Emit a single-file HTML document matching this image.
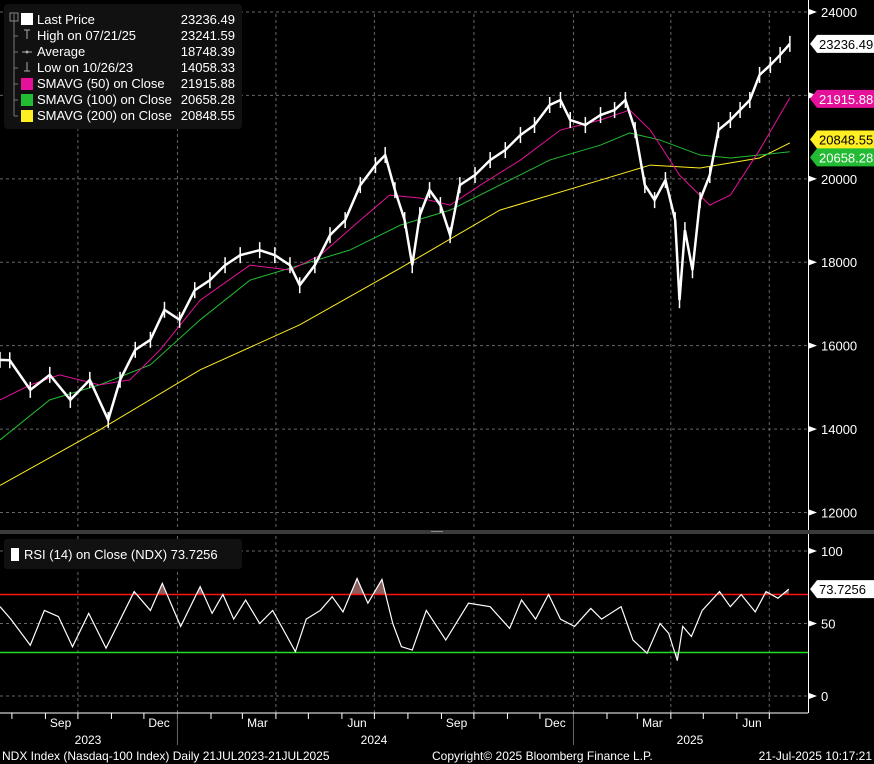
<!DOCTYPE html>
<html><head><meta charset="utf-8"><style>
html,body{margin:0;padding:0;background:#000;}
svg{display:block;font-family:"Liberation Sans",sans-serif;}
</style></head><body>
<svg id="c" width="874" height="764" viewBox="0 0 874 764" xmlns="http://www.w3.org/2000/svg">
<rect x="0" y="0" width="874" height="764" fill="#000"/>
<g id="grid"></g>
<g id="main"></g>
<g id="rsi"></g>
<g id="axes"></g>
<rect x="0" y="530" width="874" height="4" fill="#3a3a3a"/>
<line x1="431" y1="531.5" x2="443" y2="531.5" stroke="#888" stroke-width="1"/>
<g font-size="13" fill="#fff">
<rect x="4" y="4" width="238" height="125" rx="4" fill="#111"/>
<path d="M14 14 v102 M14 36 h4 M14 52 h4 M14 68 h4 M14 84 h4 M14 100 h4 M14 116 h4" stroke="#777" fill="none"/>
<rect x="10" y="13" width="8" height="8" fill="none" stroke="#888"/>
<rect x="21" y="13" width="12" height="12" fill="#fff"/>
<path d="M24 30 h6 M27 30 v9" stroke="#aaa"/>
<path d="M22 52 h10" stroke="#aaa"/><circle cx="27" cy="52" r="1.5" fill="#aaa"/>
<path d="M27 62 v9 M24 71 h6" stroke="#aaa"/>
<rect x="21" y="78" width="12" height="12" fill="#e6119a"/>
<rect x="21" y="94" width="12" height="12" fill="#22bb33"/>
<rect x="21" y="110" width="12" height="12" fill="#ffee22"/>
<text x="37" y="24">Last Price</text>
<text x="37" y="40">High on 07/21/25</text>
<text x="37" y="56">Average</text>
<text x="37" y="72">Low on 10/26/23</text>
<text x="37" y="88">SMAVG (50)  on Close</text>
<text x="37" y="104">SMAVG (100)  on Close</text>
<text x="37" y="120">SMAVG (200)  on Close</text>
<g text-anchor="end">
<text x="235" y="24">23236.49</text><text x="235" y="40">23241.59</text><text x="235" y="56">18748.39</text><text x="235" y="72">14058.33</text><text x="235" y="88">21915.88</text><text x="235" y="104">20658.28</text><text x="235" y="120">20848.55</text>
</g>
</g>
<g font-size="13" fill="#fff">
<rect x="4" y="539" width="238" height="30" rx="3" fill="#111"/>
<rect x="11" y="548" width="8" height="13" fill="#fff"/>
<text x="24" y="559">RSI (14)  on Close (NDX) 73.7256</text>
</g>
<g font-size="12" fill="#fff">
<text x="2" y="760">NDX Index (Nasdaq-100 Index)  Daily 21JUL2023-21JUL2025</text>
<text x="432" y="760">Copyright© 2025 Bloomberg Finance L.P.</text>
<text x="872" y="760" text-anchor="end">21-Jul-2025 10:17:21</text>
</g>
</svg>
<script>
// ---- data ----
const priceDays=[0,9,28,46,65,83,100,111,125,139,152,166,180,194,208,222,240,254,268,277,291,305,319,333,347,356,365,374,381,388,397,407,416,425,439,453,467,481,494,508,518,527,541,555,568,578,587,596,605,615,624,628,633,640,647,656,664,675,684,693,702,712,721,730];
const priceVals=[15660,15650,14940,15300,14700,15180,14220,15180,15900,16140,16860,16620,17330,17570,17930,18170,18290,18170,17930,17450,17930,18650,19010,19850,20330,20570,19730,19010,17930,19130,19730,19370,18650,19850,20090,20450,20690,21050,21290,21770,21890,21410,21290,21530,21650,21890,21170,19850,19490,19970,19010,17090,18770,17810,19490,20090,21170,21410,21650,21890,22490,22730,22970,23236];
const sma50Days=[0,28,55,92,120,148,185,231,268,296,333,360,388,416,444,481,518,555,582,601,628,656,675,702,730];
const sma50Vals=[14700,15060,15300,15060,15180,15900,17090,17930,17810,18170,19010,19610,19540,19370,19850,20450,21170,21410,21650,21170,20090,19370,19610,20690,21940];
const sma100Days=[0,46,92,139,185,231,277,323,370,416,462,508,555,582,610,647,675,702,730];
const sma100Vals=[13740,14700,15060,15540,16620,17570,17930,18290,18890,19250,19850,20450,20810,21100,20930,20570,20500,20570,20650];
const sma200Days=[0,92,185,277,370,462,555,601,647,702,730];
const sma200Vals=[12650,13980,15420,16500,17860,19250,19970,20330,20260,20500,20860];
const rsiDays=[0,10,28,41,54,67,82,98,124,139,150,167,185,196,206,216,227,240,252,273,283,296,307,317,330,340,353,363,371,381,394,412,433,453,471,482,495,507,518,531,546,556,574,585,598,610,618,626,631,639,649,665,675,685,698,708,719,729];
const rsiVals=[61.6,53,35,59,54.8,34,57,33,72,59,77.7,48,75.4,57,70,53,66.2,50,59,30.6,53,59,68.5,58,81,64,80.4,50,34,31.7,59,38.6,64,61.6,46.6,66.2,53,70,53,48,60.4,53,61.6,38.6,29.5,50,43.2,24.4,48,41,59,72,61.6,70,58,72,67.4,73.7];
const priceTicks=[24000,22000,20000,18000,16000,14000,12000];
const rsiTicks=[100,50,0];
const monthNames=["Jan","Feb","Mar","Apr","May","Jun","Jul","Aug","Sep","Oct","Nov","Dec"];
// ---- scales ----
const NS="http://www.w3.org/2000/svg";
const start=Date.UTC(2023,6,21);
const xd=d=>d*1.082;
const yp=v=>12+(24000-v)*0.041708;
const yr=r=>696-r*1.45;
function mk(tag,attrs,parent){const e=document.createElementNS(NS,tag);for(const k in attrs)e.setAttribute(k,attrs[k]);parent.appendChild(e);return e;}
const grid=document.getElementById('grid'),main=document.getElementById('main'),rsi=document.getElementById('rsi'),axes=document.getElementById('axes');
priceTicks.forEach(v=>{const l=mk('line',{x1:0,x2:808,y1:yp(v),y2:yp(v),stroke:'#666','stroke-dasharray':'3,3'},grid);

});
rsiTicks.forEach(v=>{const l=mk('line',{x1:0,x2:808,y1:yr(v),y2:yr(v),stroke:'#666','stroke-dasharray':'3,3'},grid);

});
for(let y=2023;y<=2025;y++)for(let m=0;m<12;m++){
 const d=(Date.UTC(y,m,1)-start)/864e5; if(d<0||d>735)continue; const x=xd(d);
 const t=mk('line',{x1:x,x2:x,y1:713,y2:719,stroke:'#fff'},axes);
 
 
 if(m%3===0){for(const [a,b] of [[14,528],[536,713]]){const g=mk('line',{x1:x,x2:x,y1:a,y2:b,stroke:'#666','stroke-dasharray':'3,3'},grid);
  
  }}
 if(m%3===2){const dm=(Date.UTC(y,m,15)-start)/864e5;const tx=mk('text',{x:xd(dm),y:727,fill:'#fff','font-size':12,'text-anchor':'middle'},axes);tx.textContent=monthNames[m];
  
  }
 if(m===0){const s=mk('line',{x1:x,x2:x,y1:713,y2:745,stroke:'#666'},axes);
  
  }
}
[[2023,88],[2024,374],[2025,690]].forEach(([yy,xx])=>{const t=mk('text',{x:xx,y:744,fill:'#fff','font-size':12,'text-anchor':'middle'},axes);t.textContent=yy;
 
 });
mk('line',{x1:0,x2:808,y1:713,y2:713,stroke:'#fff'},axes);
mk('line',{x1:808.5,x2:808.5,y1:0,y2:713,stroke:'#fff'},axes);
priceTicks.forEach(v=>{const t=mk('text',{x:821,y:yp(v)+5,fill:'#fff','font-size':13},axes);t.textContent=v;
 
 
 mk('path',{d:`M809 ${yp(v)-3} L817 ${yp(v)} L809 ${yp(v)+3}Z`,fill:'#fff'},axes);});
rsiTicks.forEach(v=>{const t=mk('text',{x:821,y:yr(v)+5,fill:'#fff','font-size':13},axes);t.textContent=v;
 
 
 mk('path',{d:`M809 ${yr(v)-3} L817 ${yr(v)} L809 ${yr(v)+3}Z`,fill:'#fff'},axes);});
function line(days,vals,sc,color,w,parent,name){const p=mk('polyline',{points:days.map((d,i)=>xd(d)+','+sc(vals[i])).join(' '),fill:'none',stroke:color,'stroke-width':w},parent);
 
 return p;}
line(sma200Days,sma200Vals,yp,'#ffee22',1,main,'sma200-line');
line(sma100Days,sma100Vals,yp,'#22bb33',1,main,'sma100-line');
line(sma50Days,sma50Vals,yp,'#e6119a',1,main,'sma50-line');
line(priceDays,priceVals,yp,'#fff',2.5,main,'price-line');
priceDays.forEach((d,i)=>{const v=priceVals[i];const b=mk('line',{x1:xd(d),x2:xd(d),y1:yp(v)-8,y2:yp(v)+8,stroke:'#fff','stroke-width':1.5},main);
 
 });
const defs=mk('defs',{},rsi);
const c1=mk('clipPath',{id:'ob'},defs);mk('rect',{x:0,y:0,width:808,height:yr(70)},c1);
const c2=mk('clipPath',{id:'os'},defs);mk('rect',{x:0,y:yr(30),width:808,height:100},c2);
const pts=rsiDays.map((d,i)=>xd(d)+','+yr(rsiVals[i])).join(' ');
const f1=mk('polygon',{points:`0,${yr(70)} ${pts} ${xd(rsiDays[rsiDays.length-1])},${yr(70)}`,fill:'#8a5c5c','clip-path':'url(#ob)'},rsi);


const f2=mk('polygon',{points:`0,${yr(30)} ${pts} ${xd(rsiDays[rsiDays.length-1])},${yr(30)}`,fill:'#4a7a4a','clip-path':'url(#os)'},rsi);


const ob=mk('line',{x1:0,x2:808,y1:yr(70),y2:yr(70),stroke:'#ff1111','stroke-width':1.5},rsi);


const os=mk('line',{x1:0,x2:808,y1:yr(30),y2:yr(30),stroke:'#22dd22','stroke-width':1.5},rsi);


line(rsiDays,rsiVals,yr,'#fff',1.2,rsi,'rsi-line');
function tag(y,txt,bg,fg,name){const g=mk('g',{},axes);
 
 
 mk('path',{d:`M810 ${y} L817 ${y-9} H874 V${y+9} H817Z`,fill:bg},g);
 const t=mk('text',{x:819,y:y+5,fill:fg,'font-size':13},g);t.textContent=txt;}
tag(yp(20848.55)-4,'20848.55','#ffee22','#000','sma200-tag');
tag(yp(20658.28)+6,'20658.28','#22bb33','#fff','sma100-tag');
tag(yp(21915.88),'21915.88','#e6119a','#fff','sma50-tag');
tag(yp(23236.49),'23236.49','#fff','#000','last-price-tag');
tag(yr(73.7256),'73.7256','#fff','#000','rsi-tag');
</script>
</body></html>
